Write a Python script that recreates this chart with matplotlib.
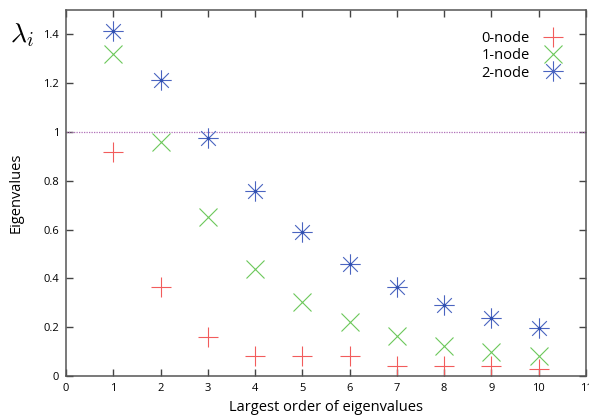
import matplotlib
matplotlib.use("Agg")
import matplotlib.pyplot as plt
from matplotlib.path import Path

# eigenvalue order on the x axis
order = [1, 2, 3, 4, 5, 6, 7, 8, 9, 10]
node0 = [0.92, 0.365, 0.16, 0.08, 0.08, 0.08, 0.042, 0.04, 0.04, 0.027]
node1 = [1.32, 0.96, 0.65, 0.44, 0.305, 0.22, 0.163, 0.122, 0.097, 0.082]
node2 = [1.415, 1.215, 0.975, 0.76, 0.59, 0.46, 0.365, 0.293, 0.238, 0.197]
ref_level = 1.0

xticks = list(range(0, 12))
yticks = [0, 0.2, 0.4, 0.6, 0.8, 1, 1.2, 1.4]
ytick_labels = ["0", "0.2", "0.4", "0.6", "0.8", "1", "1.2", "1.4"]

plt.rcParams["font.family"] = ["Open Sans", "DejaVu Sans"]
plt.rcParams["mathtext.fontset"] = "cm"

# gnuplot style star: a "+" laid over an "x"
d = 0.72
star = Path([(-1, 0), (1, 0), (0, -1), (0, 1), (-d, -d), (d, d), (-d, d), (d, -d)],
            [Path.MOVETO, Path.LINETO] * 4)

fig = plt.figure(figsize=(5.89, 4.19), dpi=100)
ax = fig.add_axes([66 / 589, 1 - 376 / 419, 520 / 589, 366 / 419])

ax.axhline(ref_level, color="#b070b8", lw=0.9, ls=(0, (1, 1)))

ms = 14
ax.plot(order, node0, ls="none", marker="+", ms=ms, mew=0.8, color="#f25c5c", label="0-node")
ax.plot(order, node1, ls="none", marker="x", ms=ms * 0.95, mew=0.8, color="#6cc85a", label="1-node")
ax.plot(order, node2, ls="none", marker=star, ms=ms * 1.05, mew=0.8, color="#4a64c0", label="2-node")
ax.plot(order, node2, ls="none", marker=".", ms=3, color="#3050b0")

ax.set_xlim(0, 11)
ax.set_ylim(0, 1.5)
ax.set_xticks(xticks)
ax.set_yticks(yticks)
ax.set_yticklabels(ytick_labels)
ax.tick_params(direction="in", top=True, right=True, length=5, width=1,
               color="#444444", labelsize=8, pad=5)
for s in ax.spines.values():
    s.set_color("#555555")
    s.set_linewidth(1.1)

ax.set_xlabel("Largest order of eigenvalues", fontsize=10.5, labelpad=4)
ax.set_ylabel("Eigenvalues", fontsize=10.5, labelpad=14)

fig.text(0.017, 0.9, r"$\lambda_i$", fontsize=20)

leg = ax.legend(loc="upper right", frameon=False, markerfirst=False, fontsize=10.5,
                handletextpad=0.8, labelspacing=0.15, borderaxespad=1.05,
                handlelength=1.6)
for t in leg.get_texts():
    t.set_ha("right")

fig.savefig("out.png", dpi=100)
